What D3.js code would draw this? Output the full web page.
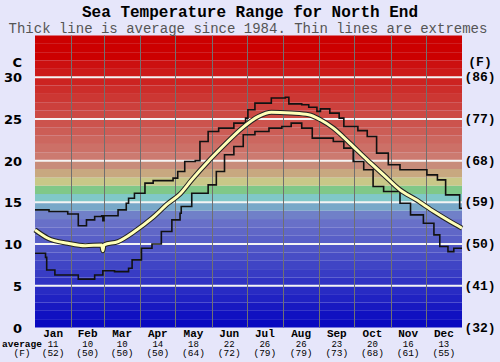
<!DOCTYPE html>
<html>
<head>
<meta charset="utf-8">
<script src="https://cdn.jsdelivr.net/npm/d3@7.9.0/dist/d3.min.js"></script>
<style>
  body { margin: 0; background: #e6e6fa; }
  svg { display: block; }
</style>
</head>
<body>
<svg id="chart" width="500" height="362"></svg>
<script>
// Month labels and monthly averages
const months = ['Jan', 'Feb', 'Mar', 'Apr', 'May', 'Jun', 'Jul', 'Aug', 'Sep', 'Oct', 'Nov', 'Dec'];
const monthDays = [31, 28, 31, 30, 31, 30, 31, 31, 30, 31, 30, 31];
const monthAvgC = [11, 10, 10, 14, 18, 22, 26, 26, 23, 20, 16, 13];
const monthAvgF = [52, 50, 50, 50, 64, 72, 79, 79, 73, 68, 61, 55];

// Axis ticks
const cTicks = [0, 5, 10, 15, 20, 25, 30];
const fTicks = [32, 41, 50, 59, 68, 77, 86];

// Daily series (day of year, degrees C)
const maxDays = [0, 12, 28, 37, 44, 51, 57, 58, 59, 71, 78, 80, 85, 94, 101, 118, 122, 128, 137, 141, 148, 157, 170, 180, 182, 188, 202, 214, 217, 228, 234, 241, 244, 252, 260, 264, 276, 284, 292, 302, 312, 335, 344, 351, 363, 365];
const maxVals = [14.1, 13.9, 13.6, 12.2, 12.9, 13.3, 13.4, 12.8, 13.4, 14.1, 14.9, 15.5, 16.1, 17.3, 17.6, 17.9, 18.7, 19.9, 20.0, 22.3, 23.5, 23.9, 24.5, 25.1, 26.1, 26.9, 27.5, 27.6, 26.8, 26.7, 26.4, 25.9, 26.2, 25.7, 25.1, 24.1, 23.6, 22.9, 20.9, 19.5, 18.9, 18.3, 17.7, 15.9, 14.3, 14.3];

const minDays = [0, 9, 10, 17, 37, 51, 58, 68, 80, 83, 91, 100, 108, 117, 124, 125, 134, 148, 155, 162, 170, 178, 188, 200, 211, 219, 228, 237, 255, 264, 272, 281, 289, 298, 312, 321, 332, 341, 346, 353, 358, 365];
const minVals = [8.9, 8.4, 6.9, 6.3, 5.8, 6.3, 6.8, 6.7, 7.1, 8.1, 9.5, 10.0, 11.5, 12.9, 13.7, 14.5, 16.1, 17.1, 18.7, 20.7, 21.7, 23.1, 23.5, 23.9, 24.1, 24.5, 23.9, 22.7, 22.3, 21.5, 19.9, 18.9, 16.9, 16.3, 14.9, 13.5, 12.5, 11.1, 9.7, 9.1, 9.5, 9.5];

const avgDays = [0, 11, 28, 43, 57, 58, 59, 71, 85, 100, 114, 124, 134, 148, 162, 177, 191, 202, 219, 234, 244, 255, 269, 284, 298, 312, 326, 341, 355, 365];
const avgVals = [11.7, 10.7, 10.1, 9.8, 9.9, 9.2, 9.9, 10.3, 11.5, 13.1, 14.9, 16.0, 17.7, 19.9, 21.9, 23.9, 25.3, 25.8, 25.7, 25.5, 24.9, 23.9, 22.1, 20.1, 18.3, 16.5, 15.3, 13.9, 12.7, 11.9];

const svg = d3.select('#chart');
const plotLeft = 35, plotRight = 462, plotTop = 35.5, plotBottom = 327.5;

const x = d3.scaleLinear().domain([0, 365]).range([plotLeft, plotRight]);
const y = d3.scaleLinear().domain([0, 35]).range([plotBottom, plotTop]);

// Background colour bands, one per degree
function bandColor(k) {
    const mid = { 13: '#7080c8', 14: '#78a8c8', 15: '#80c8c8', 16: '#80c888', 17: '#c8c888', 18: '#c8a880', 19: '#c88c7a' };
    if (mid[k]) return mid[k];
    if (k <= 12) return d3.interpolateRgb('#0808c0', '#6870c8')(k / 12);
    if (k >= 32) return '#cc0000';
    return d3.interpolateRgb('#cc7a70', '#cc1010')((k - 20) / 11);
}

const bands = d3.range(0, 35);
svg.append('g')
    .selectAll('rect')
    .data(bands)
    .join('rect')
    .attr('x', plotLeft)
    .attr('width', plotRight - plotLeft)
    .attr('y', (k) => y(k + 1))
    .attr('height', (k) => y(k) - y(k + 1))
    .attr('fill', (k) => bandColor(k));

// Horizontal grid
svg.append('g')
    .selectAll('line')
    .data(cTicks.filter((t) => t > 0))
    .join('line')
    .attr('x1', plotLeft)
    .attr('x2', plotRight)
    .attr('y1', (t) => y(t))
    .attr('y2', (t) => y(t))
    .attr('stroke', '#f4f4f4')
    .attr('stroke-width', 2);

// Month boundaries
const monthStarts = monthDays.map((d, i) => d3.sum(monthDays.slice(0, i)));
svg.append('g')
    .selectAll('line')
    .data(monthStarts.slice(1))
    .join('line')
    .attr('x1', (d) => Math.round(x(d)) + 0.5)
    .attr('x2', (d) => Math.round(x(d)) + 0.5)
    .attr('y1', plotTop)
    .attr('y2', plotBottom)
    .attr('stroke', '#707070')
    .attr('stroke-width', 1);

// Lines
const stepLine = d3.line()
    .x((d) => x(d[0]))
    .y((d) => y(d[1]))
    .curve(d3.curveStepAfter);

const avgLine = d3.line()
    .x((d) => x(d[0]))
    .y((d) => y(d[1]))
    .curve(d3.curveMonotoneX);

const maxData = d3.zip(maxDays, maxVals);
const minData = d3.zip(minDays, minVals);
const avgData = d3.zip(avgDays, avgVals);

[maxData, minData].forEach((data) => {
    svg.append('path')
        .attr('d', stepLine(data))
        .attr('fill', 'none')
        .attr('stroke', '#111')
        .attr('stroke-width', 1.6);
});

svg.append('path')
    .attr('d', avgLine(avgData))
    .attr('fill', 'none')
    .attr('stroke', '#222')
    .attr('stroke-width', 5);
svg.append('path')
    .attr('d', avgLine(avgData))
    .attr('fill', 'none')
    .attr('stroke', '#ffffb8')
    .attr('stroke-width', 3);

// Title
svg.append('text')
    .attr('x', 250)
    .attr('y', 16.5)
    .attr('text-anchor', 'middle')
    .style('font', 'bold 16px "Liberation Mono", monospace')
    .attr('fill', '#000')
    .text('Sea Temperature Range for North End');

svg.append('text')
    .attr('x', 248)
    .attr('y', 33)
    .attr('text-anchor', 'middle')
    .style('font', '14px "Liberation Mono", monospace')
    .attr('fill', '#555')
    .text('Thick line is average since 1984. Thin lines are extremes');

// Left axis (C)
const leftAxis = svg.append('g')
    .style('font', 'bold 13px "DejaVu Sans", sans-serif')
    .attr('fill', '#000');
leftAxis.append('text')
    .attr('x', 22).attr('y', 67)
    .attr('text-anchor', 'end')
    .text('C');
leftAxis.selectAll('text.tick')
    .data(cTicks)
    .join('text')
    .attr('class', 'tick')
    .attr('x', 22)
    .attr('y', (t) => y(t) + 5)
    .attr('text-anchor', 'end')
    .text((t) => t);

// Right axis (F)
const rightAxis = svg.append('g')
    .style('font', 'bold 13px "Liberation Mono", monospace')
    .attr('fill', '#000');
rightAxis.append('text')
    .attr('x', 480).attr('y', 66)
    .attr('text-anchor', 'middle')
    .text('(F)');
rightAxis.selectAll('text.tick')
    .data(fTicks)
    .join('text')
    .attr('class', 'tick')
    .attr('x', 480)
    .attr('y', (t, i) => y(cTicks[i]) + 4)
    .attr('text-anchor', 'middle')
    .text((t) => `(${t})`);

// Bottom labels
const monthMid = monthStarts.map((s, i) => x(s + monthDays[i] / 2));
const bottomG = svg.append('g').attr('text-anchor', 'middle');
bottomG.selectAll('text.m')
    .data(months)
    .join('text')
    .attr('class', 'm')
    .attr('x', (d, i) => monthMid[i])
    .attr('y', 336.5)
    .style('font', 'bold 11px "Liberation Mono", monospace')
    .text((d) => d);
bottomG.selectAll('text.c')
    .data(monthAvgC)
    .join('text')
    .attr('class', 'c')
    .attr('x', (d, i) => monthMid[i])
    .attr('y', 346.5)
    .style('font', '9px "Liberation Mono", monospace')
    .text((d) => d);
bottomG.selectAll('text.f')
    .data(monthAvgF)
    .join('text')
    .attr('class', 'f')
    .attr('x', (d, i) => monthMid[i])
    .attr('y', 356)
    .style('font', '9.5px "Liberation Mono", monospace')
    .text((d) => `(${d})`);

svg.append('text')
    .attr('x', 22).attr('y', 346.5)
    .attr('text-anchor', 'middle')
    .style('font', 'bold 9.5px "Liberation Mono", monospace')
    .text('average');
svg.append('text')
    .attr('x', 22).attr('y', 356)
    .attr('text-anchor', 'middle')
    .style('font', '9.5px "Liberation Mono", monospace')
    .text('(F)');
</script>
</body>
</html>
